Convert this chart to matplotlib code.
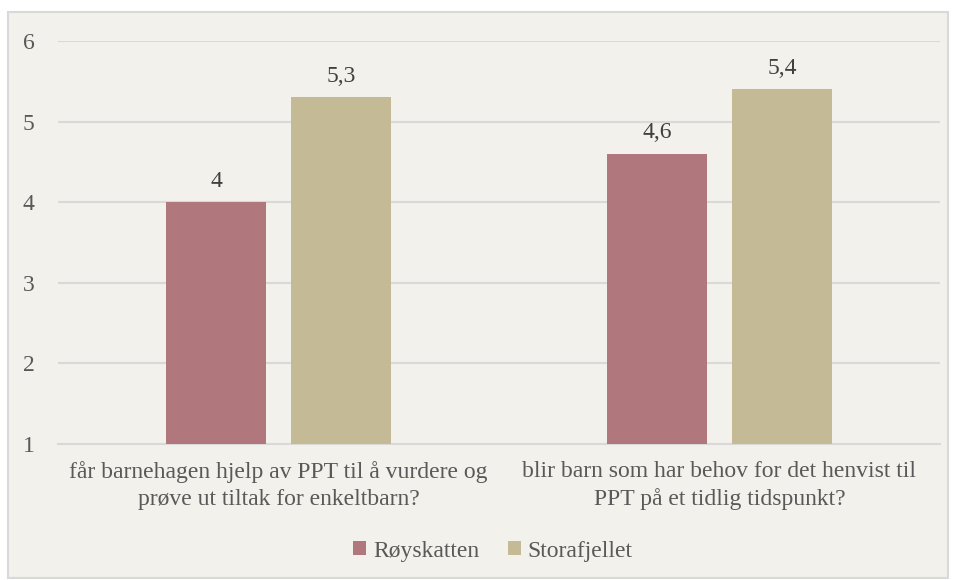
import numpy as np
import matplotlib.pyplot as plt
from matplotlib.patches import Rectangle

plt.rcParams['font.family'] = ['Liberation Serif', 'DejaVu Serif']

categories = ['får barnehagen hjelp av PPT til å vurdere og\nprøve ut tiltak for enkeltbarn?',
              'blir barn som har behov for det henvist til\nPPT på et tidlig tidspunkt?']
series = ['Røyskatten', 'Storafjellet']
roeyskatten = [4.0, 4.6]
storafjellet = [5.3, 5.4]
labels_r = ['4', '4,6']
labels_s = ['5,3', '5,4']
colors = ['#B0787C', '#C4BA96']
text_col = '#595959'
bg = '#F2F1EB'
fs = 17

fig = plt.figure(figsize=(9.56, 5.8), dpi=100)
fig.patch.set_facecolor('white')
fig.patches.append(Rectangle((8/956, 2/580), 940/956, 566/580, transform=fig.transFigure,
                             facecolor=bg, edgecolor='#D9D9D9', linewidth=1.5, zorder=-5))

ax = fig.add_axes([58/956, 1 - 444/580, 882/956, 403/580])
ax.patch.set_alpha(0)

x = np.arange(len(categories))
w = 0.225
off = 0.1417
b1 = ax.bar(x - off, np.array(roeyskatten) - 1, w, bottom=1, color=colors[0], label=series[0], zorder=3)
b2 = ax.bar(x + off, np.array(storafjellet) - 1, w, bottom=1, color=colors[1], label=series[1], zorder=3)

for bars, vals, labs in [(b1, roeyskatten, labels_r), (b2, storafjellet, labels_s)]:
    for r, v, l in zip(bars, vals, labs):
        ax.text(r.get_x() + r.get_width() / 2, v + 0.13, l, ha='center', va='bottom',
                fontsize=fs, color='#404040')

ax.set_ylim(1, 6)
ax.set_xlim(-0.5, 1.5)
ax.set_yticks([1, 2, 3, 4, 5, 6])
ax.yaxis.grid(True, color='#D9D9D9', linewidth=1.5, zorder=0)
for s in ax.spines.values():
    s.set_visible(False)
ax.spines['bottom'].set_visible(True)
ax.spines['bottom'].set_color('#D9D9D9')
ax.spines['bottom'].set_linewidth(1.5)
ax.tick_params(axis='both', length=0, labelsize=fs, colors=text_col)
ax.tick_params(axis='y', pad=21)
ax.tick_params(axis='x', pad=12)
ax.set_xticks(x)
ax.set_xticklabels(categories, fontsize=fs, color=text_col, linespacing=1.4)
for t in ax.get_yticklabels():
    t.set_horizontalalignment('center')

leg = fig.legend(loc='center', bbox_to_anchor=(493/956, 1 - 551/580), ncol=2, frameon=False,
                 fontsize=fs, handlelength=0.55, handleheight=0.55, handletextpad=0.3,
                 columnspacing=1.2)
for t in leg.get_texts():
    t.set_color(text_col)

fig.savefig('out.png', dpi=100, facecolor=fig.get_facecolor())
